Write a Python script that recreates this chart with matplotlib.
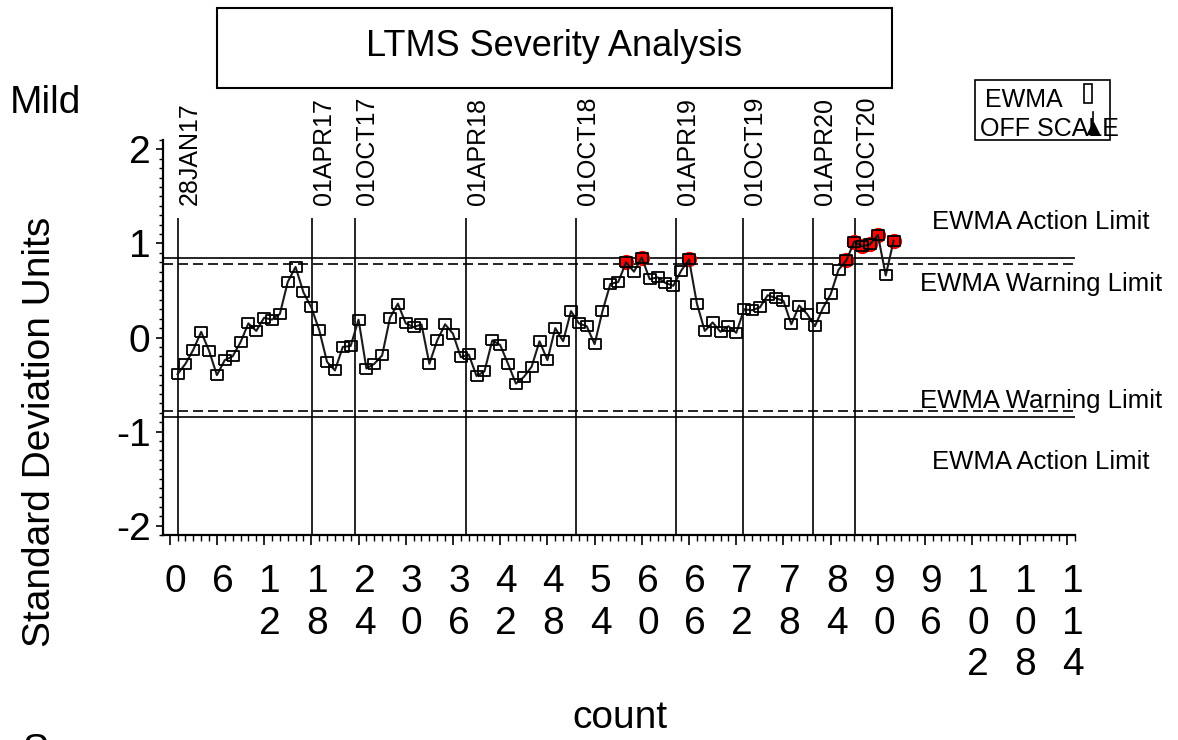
import matplotlib
matplotlib.use('Agg')
import matplotlib.pyplot as plt
import matplotlib.transforms as mtransforms
from matplotlib.patches import Rectangle
from matplotlib.lines import Line2D
from matplotlib.path import Path
from matplotlib.ticker import MultipleLocator

plt.rcParams['font.family'] = ['Liberation Sans', 'DejaVu Sans']
plt.rcParams['axes.unicode_minus'] = False

W, H = 1178, 740

# EWMA of severity, one value per test (count 1..92)
ewma = [-0.39, -0.28, -0.13, 0.06, -0.14, -0.40, -0.24, -0.20, -0.05, 0.15,
        0.07, 0.21, 0.19, 0.25, 0.59, 0.75, 0.48, 0.32, 0.08, -0.26,
        -0.35, -0.10, -0.09, 0.19, -0.33, -0.28, -0.19, 0.21, 0.36, 0.15,
        0.11, 0.14, -0.28, -0.03, 0.14, 0.04, -0.21, -0.18, -0.41, -0.36,
        -0.03, -0.08, -0.28, -0.49, -0.42, -0.31, -0.04, -0.24, 0.10, -0.04,
        0.28, 0.15, 0.12, -0.07, 0.28, 0.57, 0.59, 0.80, 0.70, 0.85,
        0.62, 0.64, 0.58, 0.55, 0.71, 0.83, 0.36, 0.07, 0.16, 0.06,
        0.12, 0.05, 0.30, 0.29, 0.32, 0.45, 0.42, 0.39, 0.14, 0.34,
        0.25, 0.12, 0.31, 0.46, 0.72, 0.82, 1.02, 0.97, 0.99, 1.09,
        0.66, 1.03]
count = list(range(1, len(ewma) + 1))

action_limit = 0.85
warning_limit = 0.78

date_labels = ['28JAN17', '01APR17', '01OCT17', '01APR18', '01OCT18',
               '01APR19', '01OCT19', '01APR20', '01OCT20']
date_counts = [1.0, 18.1, 23.5, 37.6, 51.6, 64.3, 72.9, 81.7, 87.1]

x_ticks = list(range(0, 115, 6))
y_ticks = [-2, -1, 0, 1, 2]


def fx(px):
    return px / W


def fy(py):
    return 1 - py / H


fig = plt.figure(figsize=(W / 100, H / 100), dpi=100)
ax = fig.add_axes([fx(163), fy(535), (1075 - 163) / W, (535 - 140) / H])

# control limits
ax.axhline(action_limit, color='black', lw=1.2)
ax.axhline(-action_limit, color='black', lw=1.2)
ax.axhline(warning_limit, color='black', lw=1.2, ls=(0, (6, 3)))
ax.axhline(-warning_limit, color='black', lw=1.2, ls=(0, (6, 3)))

# date markers
ax.vlines(date_counts, -2.1, 1.27, color='black', lw=1.2)
shift = mtransforms.ScaledTranslation(12 / 100, 0, fig.dpi_scale_trans)
for d, lbl in zip(date_counts, date_labels):
    ax.text(d, 1.41, lbl, rotation=90, ha='center', va='bottom',
            fontsize=18, transform=ax.transData + shift)

# points above warning limit get a red dot
over_x = [c for c, v in zip(count, ewma) if v > warning_limit]
over_y = [v for v in ewma if v > warning_limit]
ax.plot(over_x, over_y, ls='none', marker='o', ms=10, color='#ff0000',
        mec='#ff0000', zorder=3)

box = Path([(-1, -0.8), (1, -0.8), (1, 0.8), (-1, 0.8), (-1, -0.8)])
ax.plot(count, ewma, color='#1a1a1a', lw=1.5, marker=box, ms=9,
        mfc='none', mec='black', mew=1.3, zorder=4)

ax.set_xlim(-0.85, 115.05)
ax.set_ylim(-2.1, 2.1)
for s in ['top', 'right']:
    ax.spines[s].set_visible(False)
for s in ['left', 'bottom']:
    ax.spines[s].set_linewidth(1.6)

ax.set_xticks(x_ticks)
ax.set_xticklabels(['\n'.join(str(t)) for t in x_ticks], linespacing=1.2)
ax.set_yticks(y_ticks)
ax.set_yticklabels([str(t) for t in y_ticks])
ax.xaxis.set_minor_locator(MultipleLocator(1))
ax.yaxis.set_minor_locator(MultipleLocator(0.1))
ax.tick_params(axis='x', which='major', length=7, width=1.2, pad=14, labelsize=28)
ax.tick_params(axis='x', which='minor', length=4, width=1)
ax.tick_params(axis='y', which='major', length=5, width=1.2, pad=4, labelsize=28)
ax.tick_params(axis='y', which='minor', length=3, width=1)
xshift = mtransforms.ScaledTranslation(6 / 100, 0, fig.dpi_scale_trans)
for lab in ax.get_xticklabels():
    lab.set_transform(lab.get_transform() + xshift)

# axis titles
fig.text(fx(40), fy(432), 'Standard Deviation Units', rotation=90,
         ha='center', va='center', fontsize=28)
fig.text(fx(620), fy(718), 'count', ha='center', va='center', fontsize=28)
fig.text(fx(45), fy(103), 'Mild', ha='center', va='center', fontsize=28)
fig.text(fx(22), fy(733), 'Severe', ha='left', va='top', fontsize=28)

# limit labels
for py, txt in [(222, 'EWMA Action Limit'), (284, 'EWMA Warning Limit'),
                (401, 'EWMA Warning Limit'), (462, 'EWMA Action Limit')]:
    fig.text(fx(1041), fy(py), txt, ha='center', va='center', fontsize=18.5)

# title box
fig.add_artist(Rectangle((fx(217), fy(88)), (892 - 217) / W, 80 / H,
                         transform=fig.transFigure, fill=False, lw=1.5,
                         ec='black'))
fig.text(fx(554), fy(47), 'LTMS Severity Analysis', ha='center', va='center',
         fontsize=26)

# off-scale legend
fig.add_artist(Rectangle((fx(975), fy(140)), 135 / W, 60 / H,
                         transform=fig.transFigure, fill=False, lw=1.2,
                         ec='black'))
fig.text(fx(985), fy(100), 'EWMA', ha='left', va='center', fontsize=18)
fig.text(fx(980), fy(129), 'OFF SCALE', ha='left', va='center', fontsize=18)
fig.add_artist(Rectangle((fx(1084), fy(103)), 8 / W, 19 / H,
                         transform=fig.transFigure, fill=False, lw=1.2,
                         ec='black'))
fig.add_artist(Line2D([fx(1093), fx(1093)], [fy(112), fy(124)],
                      transform=fig.transFigure, color='black', lw=1.2))
fig.add_artist(Line2D([fx(1093)], [fy(128)], transform=fig.transFigure,
                      marker='^', ms=8, color='black', ls='none'))

fig.savefig('out.png', dpi=100)
